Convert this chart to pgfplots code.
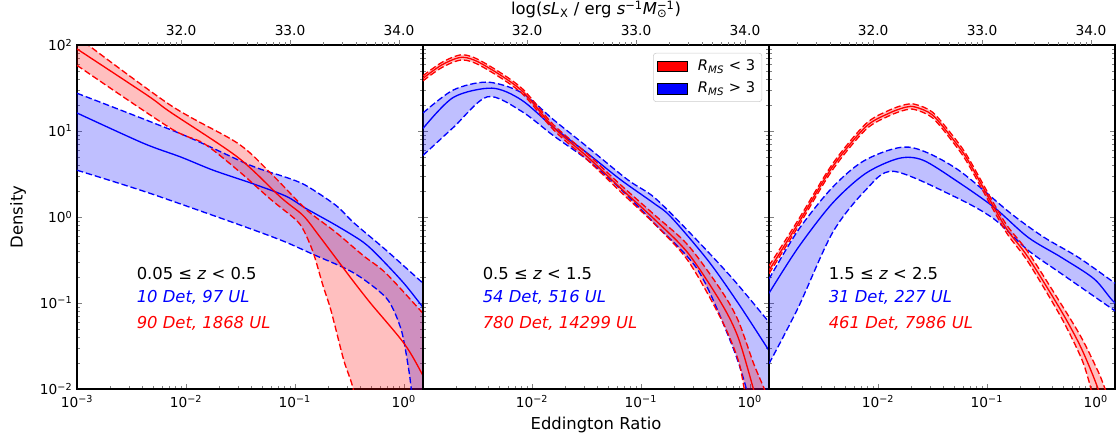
\documentclass[border=0pt]{standalone}
\usepackage{fontspec}
\setmainfont{DejaVu Sans}
\usepackage{pgfplots}
\pgfplotsset{compat=1.18}

\newcommand{\lab}{\fontsize{12.3}{14}\selectfont}
\newcommand{\tk}{\fontsize{10.3}{12}\selectfont}

\tikzset{
  dsh/.style={line width=1pt, dash pattern=on 4.8pt off 2.2pt, smooth, tension=0.5},
  mid/.style={line width=1pt, smooth, tension=0.5},
  bnd/.style={draw=none, fill=#1, fill opacity=0.25, smooth, tension=0.5},
  txt/.style={anchor=west, inner sep=0pt, font=\lab},
}

\begin{document}
\begin{tikzpicture}
\path[use as bounding box] (-57.75pt,-36pt) rectangle (780.75pt,291.75pt);

% ---------- panel 1: 0.05 <= z < 0.5
\begin{axis}[at={(0pt,0pt)}, anchor=south west, scale only axis,
  width=259.5pt, height=258pt,
  xmode=log, ymode=log, xmin=0.001, xmax=1.5, ymin=0.01, ymax=100,
  tick align=inside, xtick pos=left, ytick pos=both,
  major tick length=3.6pt, minor tick length=2.1pt,
  axis line style={line width=0.8pt},
  xtick={0.001,0.01,0.1,1},
  xticklabels={10\textsuperscript{−3},10\textsuperscript{−2},10\textsuperscript{−1},10\textsuperscript{0}},
  minor xtick={0.002,0.003,0.004,0.005,0.006,0.007,0.008,0.009,
    0.02,0.03,0.04,0.05,0.06,0.07,0.08,0.09,0.2,0.3,0.4,0.5,0.6,0.7,0.8,0.9},
  ytick={0.01,0.1,1,10,100},
  yticklabels={10\textsuperscript{−2},10\textsuperscript{−1},10\textsuperscript{0},10\textsuperscript{1},10\textsuperscript{2}},
  minor ytick={0.02,0.03,0.04,0.05,0.06,0.07,0.08,0.09,0.2,0.3,0.4,0.5,0.6,0.7,0.8,0.9,
    2,3,4,5,6,7,8,9,20,30,40,50,60,70,80,90},
  tick label style={font=\tk}, xticklabel style={yshift=-1.5pt},
  label style={font=\lab},
  ylabel={Density}, ylabel style={yshift=3.5pt}]
% bands: upper bound, then lower bound back
\addplot[bnd=blue] coordinates {(0.001,27.5) (0.00891,9.3) (0.0389,4.0) (0.0826,2.9) (0.126,2.33) (0.239,1.36) (0.35,0.85) (0.69,0.41) (1.5,0.17) (2.5,0.095)
  (2.5,0.001) (1.25,0.004) (1.17,0.01) (1.1,0.018) (0.95,0.048) (0.72,0.107) (0.45,0.18) (0.295,0.25) (0.156,0.356) (0.0826,0.51) (0.0486,0.66) (0.0195,1.0) (0.00407,2.0) (0.001,3.5)};
\addplot[bnd=red] coordinates {(0.001,125) (0.00719,20) (0.0299,7.2) (0.0601,3.22) (0.109,1.48) (0.14,1.10) (0.239,0.66) (0.424,0.356) (0.69,0.22) (1.5,0.076) (2.5,0.038)
  (2.5,0.001) (0.4,0.003) (0.343,0.01) (0.28,0.022) (0.215,0.081) (0.181,0.16) (0.147,0.39) (0.119,0.72) (0.1,0.95) (0.0601,1.6) (0.0299,3.5) (0.0145,7.2) (0.00719,10.8) (0.001,58)};
\addplot[blue, dsh] coordinates {(0.001,27.5) (0.00891,9.3) (0.0389,4.0) (0.0826,2.9) (0.126,2.33) (0.239,1.36) (0.35,0.85) (0.69,0.41) (1.5,0.17) (2.5,0.095)};
\addplot[blue, dsh] coordinates {(0.001,3.5) (0.00407,2.0) (0.0195,1.0) (0.0486,0.66) (0.0826,0.51) (0.156,0.356) (0.295,0.25) (0.45,0.18) (0.72,0.107) (0.95,0.048) (1.1,0.018) (1.17,0.01) (1.25,0.004)};
\addplot[blue, mid] coordinates {(0.001,16.2) (0.00407,7.2) (0.00891,5.0) (0.0178,3.5) (0.0389,2.5) (0.0826,1.75) (0.126,1.26) (0.239,0.80) (0.424,0.51) (0.6,0.34) (1.0,0.17) (1.5,0.089) (2.5,0.039)};
\addplot[red, dsh] coordinates {(0.001,125) (0.00719,20) (0.0299,7.2) (0.0601,3.22) (0.109,1.48) (0.14,1.10) (0.239,0.66) (0.424,0.356) (0.69,0.22) (1.5,0.076) (2.5,0.038)};
\addplot[red, dsh] coordinates {(0.001,58) (0.00719,10.8) (0.0145,7.2) (0.0299,3.5) (0.0601,1.6) (0.1,0.95) (0.119,0.72) (0.147,0.39) (0.181,0.16) (0.215,0.081) (0.28,0.022) (0.343,0.01) (0.4,0.003)};
\addplot[red, mid] coordinates {(0.001,90) (0.00442,26) (0.00719,16.6) (0.0299,4.95) (0.0743,1.69) (0.119,1.04) (0.166,0.61) (0.255,0.296) (0.343,0.18) (0.5,0.098) (1.01,0.0336) (1.5,0.0143) (2.5,0.004)};
\node[txt] at (rel axis cs:0.172,0.337) {0.05 ≤ \textit{z} < 0.5};
\node[txt, text=blue] at (rel axis cs:0.172,0.265) {\textit{10 Det, 97 UL}};
\node[txt, text=red] at (rel axis cs:0.172,0.192) {\textit{90 Det, 1868 UL}};
\end{axis}

% ---------- panel 2: 0.5 <= z < 1.5
\begin{axis}[at={(259.5pt,0pt)}, anchor=south west, scale only axis,
  width=259.5pt, height=258pt,
  xmode=log, ymode=log, xmin=0.001, xmax=1.5, ymin=0.01, ymax=100,
  tick align=inside, xtick pos=left, ytick pos=both,
  major tick length=3.6pt, minor tick length=2.1pt,
  axis line style={line width=0.8pt},
  xtick={0.01,0.1,1},
  xticklabels={10\textsuperscript{−2},10\textsuperscript{−1},10\textsuperscript{0}},
  minor xtick={0.002,0.003,0.004,0.005,0.006,0.007,0.008,0.009,
    0.02,0.03,0.04,0.05,0.06,0.07,0.08,0.09,0.2,0.3,0.4,0.5,0.6,0.7,0.8,0.9},
  ytick={0.01,0.1,1,10,100}, yticklabels={},
  minor ytick={0.02,0.03,0.04,0.05,0.06,0.07,0.08,0.09,0.2,0.3,0.4,0.5,0.6,0.7,0.8,0.9,
    2,3,4,5,6,7,8,9,20,30,40,50,60,70,80,90},
  tick label style={font=\tk}, xticklabel style={yshift=-1.5pt},
  label style={font=\lab},
  xlabel={Eddington Ratio},
  legend style={at={(rel axis cs:0.98,0.977)}, anchor=north east, draw=black!20,
    rounded corners=2pt, font=\fontsize{11}{13}\selectfont, row sep=3pt,
    inner ysep=3pt, cells={anchor=west}},
  legend image code/.code={\path[#1, sharp corners] (0pt,-4pt) rectangle (22.5pt,4pt); \path (28pt,0pt);}]
\addlegendimage{fill=red}
\addlegendentry{\textit{R}\textsubscript{\textit{MS}} < 3}
\addlegendimage{fill=blue}
\addlegendentry{\textit{R}\textsubscript{\textit{MS}} > 3}
\addplot[bnd=blue] coordinates {(0.001,16.2) (0.0019,30) (0.0039,37) (0.008,28) (0.0158,13.5) (0.0324,6.5) (0.076,2.7) (0.132,1.7) (0.271,0.69) (0.676,0.2) (1.5,0.06) (2.5,0.028)
  (2.5,0.001) (1.05,0.003) (0.93,0.01) (0.676,0.034) (0.335,0.24) (0.132,0.85) (0.0655,2.1) (0.0324,4.6) (0.0158,8.8) (0.008,17) (0.0039,25) (0.0019,11) (0.001,5.2)};
\addplot[bnd=red] coordinates {(0.001,43.9) (0.0015,63) (0.00229,77) (0.0035,64) (0.00794,32) (0.0158,11.8) (0.0324,5.4) (0.0655,2.35) (0.132,1.07) (0.271,0.47) (0.546,0.14) (0.78,0.063) (1.08,0.02) (1.36,0.01) (1.5,0.007)
  (1.0,0.005) (0.89,0.01) (0.78,0.022) (0.546,0.065) (0.271,0.31) (0.132,0.84) (0.0655,1.95) (0.0324,4.6) (0.0158,10.3) (0.00794,28) (0.0035,56) (0.00229,67) (0.0015,55) (0.001,38.3)};
\addplot[blue, dsh] coordinates {(0.001,16.2) (0.0019,30) (0.0039,37) (0.008,28) (0.0158,13.5) (0.0324,6.5) (0.076,2.7) (0.132,1.7) (0.271,0.69) (0.676,0.2) (1.5,0.06) (2.5,0.028)};
\addplot[blue, dsh] coordinates {(0.001,5.2) (0.0019,11) (0.0039,25) (0.008,17) (0.0158,8.8) (0.0324,4.6) (0.0655,2.1) (0.132,0.85) (0.335,0.24) (0.676,0.034) (0.93,0.01) (1.0,0.005)};
\addplot[blue, mid] coordinates {(0.001,10.7) (0.0019,24.6) (0.0043,31.5) (0.008,23) (0.0158,11) (0.0324,5.5) (0.0655,2.7) (0.132,1.44) (0.189,1.0) (0.415,0.31) (0.78,0.1) (1.5,0.028) (2.5,0.0103)};
\addplot[red, dsh] coordinates {(0.001,43.9) (0.0015,63) (0.00229,77) (0.0035,64) (0.00794,32) (0.0158,11.8) (0.0324,5.4) (0.0655,2.35) (0.132,1.07) (0.271,0.47) (0.546,0.14) (0.78,0.063) (1.08,0.02) (1.36,0.01) (1.5,0.007)};
\addplot[red, dsh] coordinates {(0.001,38.3) (0.0015,55) (0.00229,67) (0.0035,56) (0.00794,28) (0.0158,10.3) (0.0324,4.6) (0.0655,1.95) (0.132,0.84) (0.271,0.31) (0.546,0.065) (0.78,0.022) (0.89,0.01) (1.0,0.005)};
\addplot[red, mid] coordinates {(0.001,41) (0.0015,59) (0.00229,72) (0.0035,60) (0.00794,30) (0.0158,11) (0.0324,5.0) (0.0655,2.15) (0.132,0.95) (0.271,0.38) (0.546,0.1) (0.78,0.04) (1.08,0.01) (1.2,0.006)};
\node[txt] at (rel axis cs:0.172,0.337) {0.5 ≤ \textit{z} < 1.5};
\node[txt, text=blue] at (rel axis cs:0.172,0.265) {\textit{54 Det, 516 UL}};
\node[txt, text=red] at (rel axis cs:0.172,0.192) {\textit{780 Det, 14299 UL}};
\end{axis}

% ---------- panel 3: 1.5 <= z < 2.5
\begin{axis}[at={(519pt,0pt)}, anchor=south west, scale only axis,
  width=259.5pt, height=258pt,
  xmode=log, ymode=log, xmin=0.001, xmax=1.5, ymin=0.01, ymax=100,
  tick align=inside, xtick pos=left, ytick pos=both,
  major tick length=3.6pt, minor tick length=2.1pt,
  axis line style={line width=0.8pt},
  xtick={0.01,0.1,1},
  xticklabels={10\textsuperscript{−2},10\textsuperscript{−1},10\textsuperscript{0}},
  minor xtick={0.002,0.003,0.004,0.005,0.006,0.007,0.008,0.009,
    0.02,0.03,0.04,0.05,0.06,0.07,0.08,0.09,0.2,0.3,0.4,0.5,0.6,0.7,0.8,0.9},
  ytick={0.01,0.1,1,10,100}, yticklabels={},
  minor ytick={0.02,0.03,0.04,0.05,0.06,0.07,0.08,0.09,0.2,0.3,0.4,0.5,0.6,0.7,0.8,0.9,
    2,3,4,5,6,7,8,9,20,30,40,50,60,70,80,90},
  tick label style={font=\tk}, xticklabel style={yshift=-1.5pt}]
\addplot[bnd=blue] coordinates {(0.001,0.19) (0.00185,0.70) (0.00381,2.2) (0.00767,4.6) (0.0191,6.5) (0.0517,3.7) (0.166,1.1) (0.335,0.58) (0.69,0.34) (1.5,0.17) (2.5,0.107)
  (2.5,0.052) (1.5,0.081) (0.481,0.22) (0.239,0.41) (0.116,0.95) (0.0517,1.7) (0.0139,3.4) (0.00767,2.04) (0.00381,0.65) (0.00185,0.088) (0.001,0.0197)};
\addplot[bnd=red] coordinates {(0.001,0.27) (0.00185,0.92) (0.00381,4.1) (0.00767,12) (0.0125,17.3) (0.0179,20.3) (0.022,20.4) (0.0318,16.5) (0.0497,8.5) (0.0668,5.0) (0.116,1.43) (0.156,0.77) (0.239,0.39) (0.481,0.097) (0.734,0.04) (1.05,0.016) (1.2,0.0105) (1.5,0.005)
  (1.1,0.004) (0.92,0.009) (0.87,0.012) (0.734,0.023) (0.481,0.068) (0.239,0.3) (0.156,0.62) (0.116,1.18) (0.0668,4.2) (0.0497,7.2) (0.0318,14.2) (0.022,17.7) (0.0179,17.6) (0.0125,14.9) (0.00767,10.3) (0.00381,3.5) (0.00185,0.77) (0.001,0.22)};
\addplot[blue, dsh] coordinates {(0.001,0.19) (0.00185,0.70) (0.00381,2.2) (0.00767,4.6) (0.0191,6.5) (0.0517,3.7) (0.166,1.1) (0.335,0.58) (0.69,0.34) (1.5,0.17) (2.5,0.107)};
\addplot[blue, dsh] coordinates {(0.001,0.0197) (0.00185,0.088) (0.00381,0.65) (0.00767,2.04) (0.0139,3.4) (0.0517,1.7) (0.116,0.95) (0.239,0.41) (0.481,0.22) (1.5,0.081) (2.5,0.052)};
\addplot[blue, mid] coordinates {(0.001,0.13) (0.00185,0.44) (0.00381,1.44) (0.00767,3.2) (0.0155,4.8) (0.0257,4.6) (0.0517,2.67) (0.116,1.3) (0.239,0.58) (0.481,0.34) (0.968,0.19) (1.5,0.1) (2.5,0.065)};
\addplot[red, dsh] coordinates {(0.001,0.27) (0.00185,0.92) (0.00381,4.1) (0.00767,12) (0.0125,17.3) (0.0179,20.3) (0.022,20.4) (0.0318,16.5) (0.0497,8.5) (0.0668,5.0) (0.116,1.43) (0.156,0.77) (0.239,0.39) (0.481,0.097) (0.734,0.04) (1.05,0.016) (1.2,0.0105) (1.5,0.005)};
\addplot[red, dsh] coordinates {(0.001,0.22) (0.00185,0.77) (0.00381,3.5) (0.00767,10.3) (0.0125,14.9) (0.0179,17.6) (0.022,17.7) (0.0318,14.2) (0.0497,7.2) (0.0668,4.2) (0.116,1.18) (0.156,0.62) (0.239,0.3) (0.481,0.068) (0.734,0.023) (0.87,0.012) (0.92,0.009) (1.1,0.004)};
\addplot[red, mid] coordinates {(0.001,0.24) (0.00185,0.84) (0.00381,3.8) (0.00767,11.1) (0.0125,16) (0.0179,18.9) (0.022,19) (0.0318,15.3) (0.0497,7.8) (0.0668,4.6) (0.116,1.3) (0.156,0.69) (0.239,0.34) (0.481,0.081) (0.734,0.03) (1.05,0.01) (1.2,0.005)};
\node[txt] at (rel axis cs:0.172,0.337) {1.5 ≤ \textit{z} < 2.5};
\node[txt, text=blue] at (rel axis cs:0.172,0.265) {\textit{31 Det, 227 UL}};
\node[txt, text=red] at (rel axis cs:0.172,0.192) {\textit{461 Det, 7986 UL}};
\end{axis}

% ---------- top axes: log(sL_X)
\begin{axis}[at={(0pt,0pt)}, anchor=south west, scale only axis,
  width=259.5pt, height=258pt,
  xmode=log, xmin=1.109e31, xmax=1.663e34, ymin=0, ymax=1,
  hide y axis, axis x line*=top, x axis line style={-},
  tick align=outside, major tick length=3.6pt, minor tick length=2.1pt,
  xtick={1e32,1e33,1e34}, xticklabels={32.0,33.0,34.0},
  minor xtick={2e31,3e31,4e31,5e31,6e31,7e31,8e31,9e31,
    2e32,3e32,4e32,5e32,6e32,7e32,8e32,9e32,2e33,3e33,4e33,5e33,6e33,7e33,8e33,9e33},
  tick label style={font=\tk}]
\end{axis}
\begin{axis}[at={(259.5pt,0pt)}, anchor=south west, scale only axis,
  width=259.5pt, height=258pt,
  xmode=log, xmin=1.109e31, xmax=1.663e34, ymin=0, ymax=1,
  hide y axis, axis x line*=top, x axis line style={-},
  tick align=outside, major tick length=3.6pt, minor tick length=2.1pt,
  xtick={1e32,1e33,1e34}, xticklabels={32.0,33.0,34.0},
  minor xtick={2e31,3e31,4e31,5e31,6e31,7e31,8e31,9e31,
    2e32,3e32,4e32,5e32,6e32,7e32,8e32,9e32,2e33,3e33,4e33,5e33,6e33,7e33,8e33,9e33},
  tick label style={font=\tk}, label style={font=\lab},
  xlabel={log(\textit{sL}\textsubscript{X} / erg \textit{s}\textsuperscript{−1}\textit{M}\rlap{\textsubscript{⊙}}\textsuperscript{−1})},
  xlabel style={yshift=-1.8pt}]
\end{axis}
\begin{axis}[at={(519pt,0pt)}, anchor=south west, scale only axis,
  width=259.5pt, height=258pt,
  xmode=log, xmin=1.109e31, xmax=1.663e34, ymin=0, ymax=1,
  hide y axis, axis x line*=top, x axis line style={-},
  tick align=outside, major tick length=3.6pt, minor tick length=2.1pt,
  xtick={1e32,1e33,1e34}, xticklabels={32.0,33.0,34.0},
  minor xtick={2e31,3e31,4e31,5e31,6e31,7e31,8e31,9e31,
    2e32,3e32,4e32,5e32,6e32,7e32,8e32,9e32,2e33,3e33,4e33,5e33,6e33,7e33,8e33,9e33},
  tick label style={font=\tk}]
\end{axis}
\end{tikzpicture}
\end{document}
